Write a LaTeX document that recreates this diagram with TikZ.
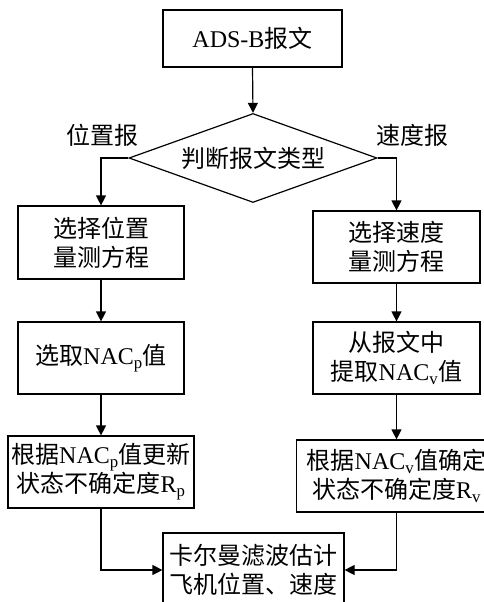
\documentclass[tikz,border=0pt]{standalone}
\usepackage{fontspec}
\setmainfont{Liberation Serif}
\newfontfamily\cjk{Noto Sans CJK SC}
\usetikzlibrary{shapes.geometric,arrows.meta}
\begin{document}
\begin{tikzpicture}[x=1pt,y=-1pt,
  box/.style={draw,line width=1.2pt,inner sep=0pt,align=center,
    font=\fontsize{24}{29}\selectfont},
  dec/.style={draw,line width=1.2pt,shape=diamond,inner sep=0pt,
    minimum width=248pt,minimum height=89pt,aspect=2.8,
    font=\fontsize{24}{29}\selectfont},
  lab/.style={font=\fontsize{24}{29}\selectfont,inner sep=0pt},
  arr/.style={line width=1.2pt,-{Triangle[length=10pt,width=10pt]}}]
\useasboundingbox (0,0) rectangle (484,602);
\clip (0,0) rectangle (484,602);
\node[box,minimum width=179pt,minimum height=57pt] (a) at (252.5,38.5) {ADS-B{\cjk 报文}};
\node[dec] (d) at (253,158) {\cjk 判断报文类型};
\node[lab] (lp) at (102,135) {\cjk 位置报};
\node[lab] (lv) at (412,135) {\cjk 速度报};
\node[box,minimum width=166pt,minimum height=73pt] (l1) at (101,242.5) {\cjk 选择位置\\\cjk 量测方程};
\node[box,minimum width=167pt,minimum height=72pt] (r1) at (396.5,247) {\cjk 选择速度\\\cjk 量测方程};
\node[box,minimum width=166pt,minimum height=72pt] (l2) at (101,358) {{\cjk 选取}NAC\textsubscript{p}{\cjk 值}};
\node[box,minimum width=167pt,minimum height=72pt] (r2) at (396.5,358) {\cjk 从报文中\\{\cjk 提取}NAC\textsubscript{v}{\cjk 值}};
\node[box,minimum width=186pt,minimum height=72pt] (l3) at (101,472) {{\cjk 根据}NAC\textsubscript{p}{\cjk 值更新}\\{\cjk 状态不确定度}R\textsubscript{p}};
\node[box,minimum width=200pt,minimum height=72pt] (r3) at (396.5,476) {{\cjk 根据}NAC\textsubscript{v}{\cjk 值确定}\\{\cjk 状态不确定度}R\textsubscript{v}};
\node[box,minimum width=181pt,minimum height=74pt] (k) at (253.5,570) {\cjk 卡尔曼滤波估计\\\cjk 飞机位置、速度};
\draw[arr] (a.south) -- (d.north);
\draw[arr] (d.west) -| (l1.north);
\draw[arr] (d.east) -| (r1.north);
\draw[arr] (l1.south) -- (l2.north);
\draw[arr] (r1.south) -- (r2.north);
\draw[arr] (l2.south) -- (l3.north);
\draw[arr] (r2.south) -- (r3.north);
\draw[arr] (l3.south) |- (k.west);
\draw[arr] (r3.south) |- (k.east);
\end{tikzpicture}
\end{document}
